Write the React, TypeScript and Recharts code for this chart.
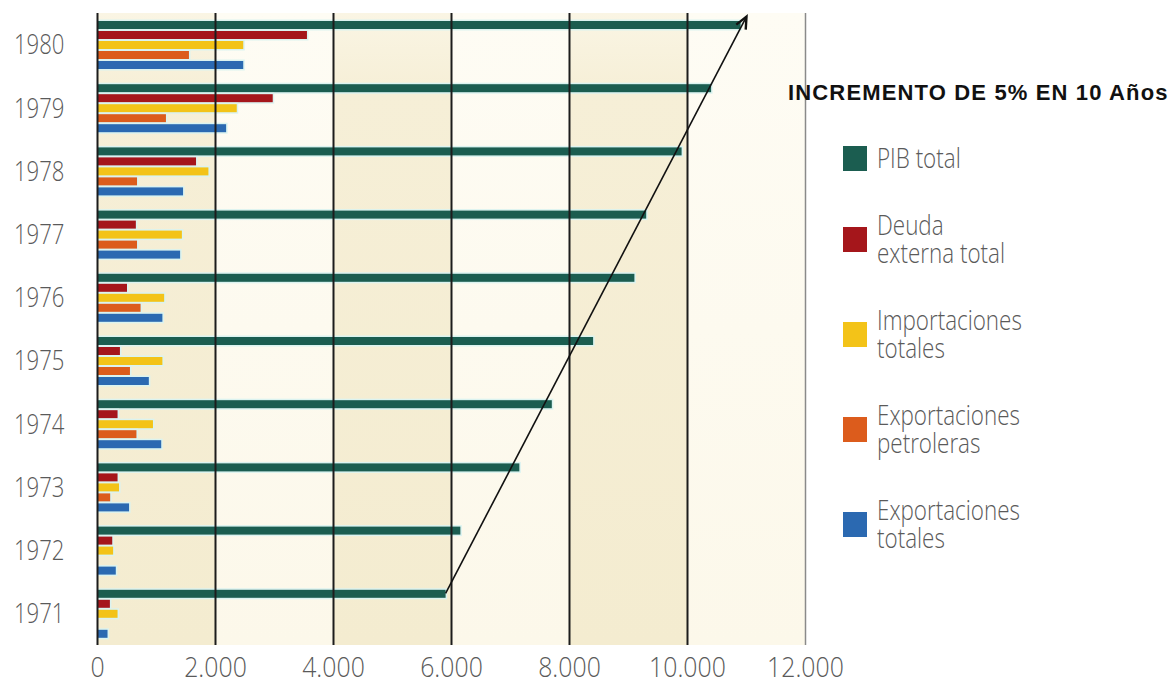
import React from 'react';
import { BarChart, Bar, XAxis, YAxis, ReferenceArea, ReferenceLine, Legend } from 'recharts';

// Years, listed top to bottom as they appear on the category axis
const years = ['1980', '1979', '1978', '1977', '1976', '1975', '1974', '1973', '1972', '1971'];

// Values in millions, same order as `years`
const pibTotal = [10900, 10400, 9900, 9300, 9100, 8400, 7700, 7150, 6150, 5900];
const deudaExterna = [3550, 2970, 1670, 650, 500, 380, 340, 340, 250, 210];
const importaciones = [2470, 2360, 1880, 1430, 1130, 1100, 940, 365, 265, 340];
const exportPetroleras = [1550, 1160, 670, 670, 730, 550, 660, 215, 0, 0];
const exportTotales = [2470, 2180, 1450, 1400, 1100, 870, 1080, 535, 310, 170];

const xTicks = [0, 2000, 4000, 6000, 8000, 10000, 12000];
const legendTitle = 'INCREMENTO DE 5% EN 10 Años';

// Trend arrow from the first to the last PIB bar
const trendStart = { value: 5900, year: '1971' };
const trendEnd = { value: 11000, year: '1980' };

const series = [
  { key: 'pib', name: 'PIB total', color: '#1b5d50' },
  { key: 'deuda', name: 'Deuda\nexterna total', color: '#a5161b' },
  { key: 'imp', name: 'Importaciones\ntotales', color: '#f3c318' },
  { key: 'petr', name: 'Exportaciones\npetroleras', color: '#dc5c1c' },
  { key: 'tot', name: 'Exportaciones\ntotales', color: '#2b69b1' },
];

const rows = years.map((year, i) => ({
  year,
  pib: pibTotal[i],
  deuda: deudaExterna[i],
  imp: importaciones[i],
  petr: exportPetroleras[i],
  tot: exportTotales[i],
}));

const FONT = '"Open Sans", "Noto Sans", sans-serif';
const TEXT_GRAY = '#5a5a5a';

const formatThousands = (v: number) =>
  v === 0 ? '0' : `${Math.floor(v / 1000)}.${String(v % 1000).padStart(3, '0')}`;

const YearTick = (props: any) => {
  const { x, y, payload } = props;
  return (
    <g transform={`translate(${x},${y})`}>
      <text
        transform="scale(0.82,1)"
        textAnchor="end"
        dy="0.36em"
        fill={TEXT_GRAY}
        fontFamily={FONT}
        fontWeight={300}
        fontSize={27}
      >
        {payload.value}
      </text>
    </g>
  );
};

const ValueTick = (props: any) => {
  const { x, y, payload } = props;
  return (
    <g transform={`translate(${x},${y})`}>
      <text
        transform="scale(0.92,1)"
        textAnchor="middle"
        dy="0.72em"
        fill={TEXT_GRAY}
        fontFamily={FONT}
        fontWeight={300}
        fontSize={27}
      >
        {formatThousands(payload.value)}
      </text>
    </g>
  );
};

// Bar with a thin pale glow around it
const GlowBar = (props: any) => {
  const { x, y, width, height, fill } = props;
  if (!width || width <= 0) return <g />;
  return (
    <g>
      <rect x={x} y={y - 1.5} width={width + 1.5} height={height + 3} fill="#dbf3f0" />
      <rect x={x} y={y} width={width} height={height} fill={fill} />
    </g>
  );
};

// Straight arrow between the ends of two PIB bars; the PIB bar sits above the band centre
const TrendArrow = (props: any) => {
  const { x1, y1, x2, y2 } = props;
  const sy1 = y1 - 20;
  const sy2 = y2 - 28;
  const ang = Math.atan2(sy2 - sy1, x2 - x1);
  const len = 13;
  const spread = 0.42;
  const ax = x2 + len * Math.cos(ang + Math.PI - spread);
  const ay = sy2 + len * Math.sin(ang + Math.PI - spread);
  const bx = x2 + len * Math.cos(ang + Math.PI + spread);
  const by = sy2 + len * Math.sin(ang + Math.PI + spread);
  return (
    <g>
      <line x1={x1} y1={sy1} x2={x2} y2={sy2} stroke="#111" strokeWidth={1.6} />
      <path d={`M${ax},${ay} L${x2},${sy2} L${bx},${by}`} fill="none" stroke="#111" strokeWidth={2.4} />
    </g>
  );
};

const LegendPanel = (props: any) => {
  const payload = props.payload || [];
  const ordered = series
    .map((s) => payload.find((p: any) => p.dataKey === s.key))
    .filter(Boolean);
  return (
    <div style={{ fontFamily: FONT }}>
      <div
        style={{
          fontFamily: '"Liberation Sans", Arial, sans-serif',
          fontWeight: 700,
          fontSize: 22,
          lineHeight: '26px',
          color: '#111',
          whiteSpace: 'nowrap',
          letterSpacing: 1.15,
        }}
      >
        {legendTitle}
      </div>
      <div style={{ marginTop: 38, marginLeft: 55, display: 'flex', flexDirection: 'column', gap: 39 }}>
        {ordered.map((p: any) => (
          <div key={p.dataKey} style={{ display: 'flex', alignItems: 'center' }}>
            <div style={{ width: 24, height: 25, background: p.color, flex: 'none' }} />
            <div
              style={{
                marginLeft: 10,
                whiteSpace: 'pre-line',
                fontSize: 27,
                fontWeight: 300,
                lineHeight: '28px',
                color: TEXT_GRAY,
                transform: 'scaleX(0.83)',
                transformOrigin: 'left center',
              }}
            >
              {p.value}
            </div>
          </div>
        ))}
      </div>
    </div>
  );
};

export default function App() {
  return (
    <div style={{ position: 'absolute', left: 0, top: 0, width: 1174, height: 686, background: '#fff' }}>
      <BarChart
        width={1174}
        height={686}
        data={rows}
        layout="vertical"
        barGap={2}
        margin={{ top: 13, right: 368.5, bottom: 0, left: 0 }}
      >
        <defs>
          <linearGradient id="bandBeige" x1="0" y1="0" x2="0" y2="1">
            <stop offset="0%" stopColor="#faf5e4" />
            <stop offset="12%" stopColor="#f6efd7" />
            <stop offset="100%" stopColor="#f4ecd0" />
          </linearGradient>
          <linearGradient id="bandCream" x1="0" y1="0" x2="0" y2="1">
            <stop offset="0%" stopColor="#fefcf4" />
            <stop offset="100%" stopColor="#fcf8ea" />
          </linearGradient>
        </defs>
        <XAxis
          type="number"
          domain={[0, 12000]}
          ticks={xTicks}
          axisLine={false}
          tickLine={false}
          tickSize={0}
          tickMargin={13}
          height={41}
          tick={<ValueTick />}
          interval={0}
        />
        <YAxis
          type="category"
          dataKey="year"
          width={97.5}
          axisLine={{ stroke: '#1c1c1c', strokeWidth: 2 }}
          tickLine={false}
          tickSize={0}
          tickMargin={33}
          tick={<YearTick />}
          interval={0}
        />
        {xTicks.slice(0, -1).map((t, i) => (
          <ReferenceArea
            key={`band-${t}`}
            x1={t}
            x2={xTicks[i + 1]}
            fill={i % 2 === 0 ? 'url(#bandBeige)' : 'url(#bandCream)'}
            fillOpacity={1}
            stroke="none"
            ifOverflow="visible"
          />
        ))}
        {series.map((s) => (
          <Bar
            key={s.key}
            dataKey={s.key}
            name={s.name}
            fill={s.color}
            barSize={8}
            shape={<GlowBar />}
            isAnimationActive={false}
          />
        ))}
        {xTicks.slice(1).map((t) => (
          <ReferenceLine
            key={`grid-${t}`}
            x={t}
            stroke={t === 12000 ? '#8a8a8a' : '#1c1c1c'}
            strokeWidth={t === 12000 ? 1.5 : 2}
          />
        ))}
        <ReferenceLine
          segment={[
            { x: trendStart.value, y: trendStart.year },
            { x: trendEnd.value, y: trendEnd.year },
          ]}
          shape={<TrendArrow />}
          ifOverflow="visible"
        />
        <Legend
          layout="horizontal"
          verticalAlign="middle"
          align="center"
          content={<LegendPanel />}
          wrapperStyle={{ left: 788, top: 80, width: 386, height: 'auto' }}
        />
      </BarChart>
    </div>
  );
}
